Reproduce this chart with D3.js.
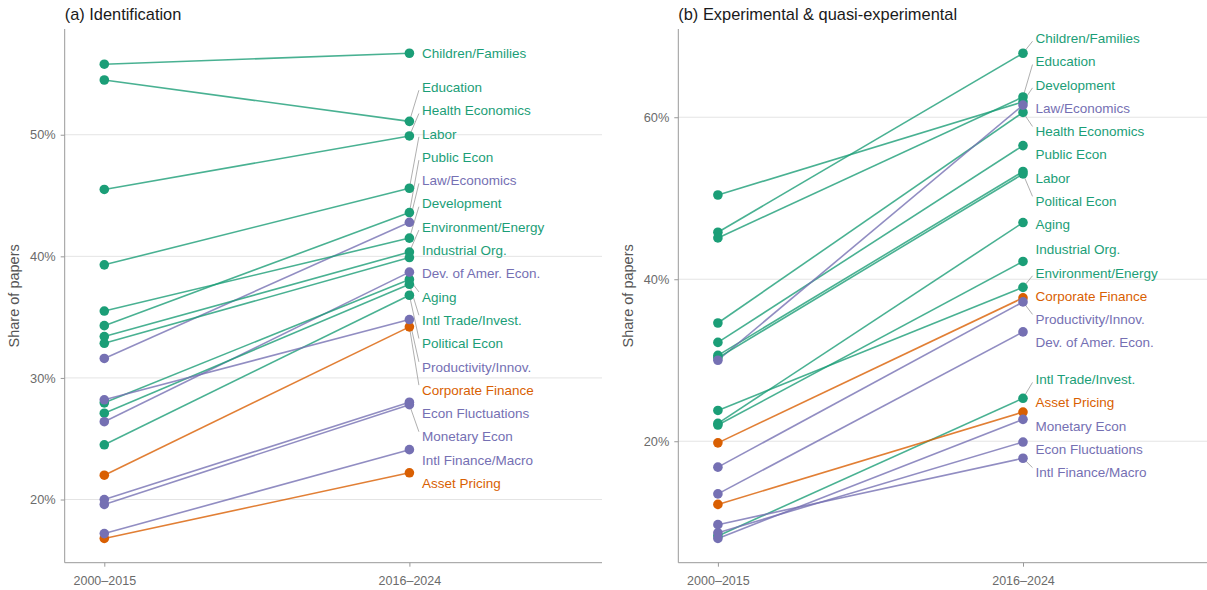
<!DOCTYPE html>
<html>
<head>
<meta charset="utf-8">
<script src="https://cdn.jsdelivr.net/npm/d3@7"></script>
<style>
  body { margin: 0; background: #fff; }
  svg { display: block; font-family: "Liberation Sans", Arial, sans-serif; }
</style>
</head>
<body>
<svg id="chart" width="1207" height="590"></svg>
<script>
// ---- data -------------------------------------------------------------
const periods = ["2000–2015", "2016–2024"];

const fields = [
  "Children/Families", "Education", "Health Economics", "Labor", "Public Econ",
  "Law/Economics", "Development", "Environment/Energy", "Industrial Org.",
  "Dev. of Amer. Econ.", "Aging", "Intl Trade/Invest.", "Political Econ",
  "Productivity/Innov.", "Corporate Finance", "Econ Fluctuations",
  "Monetary Econ", "Intl Finance/Macro", "Asset Pricing"
];

const fieldGroup = [
  "applied", "applied", "applied", "applied", "applied",
  "other", "applied", "applied", "applied",
  "other", "applied", "applied", "applied",
  "other", "finance", "other",
  "other", "other", "finance"
];

// share of papers (%) using identification language
const identEarly = [55.8, 54.5, 45.5, 39.3, 34.3, 31.6, 35.5, 33.4, 32.85, 26.4, 27.95, 27.1, 24.5, 28.2, 22.0, 20.0, 19.6, 17.2, 16.8];
const identLate  = [56.7, 51.1, 49.9, 45.6, 43.6, 42.8, 41.5, 40.35, 39.9, 38.7, 38.1, 37.7, 36.8, 34.8, 34.2, 28.0, 27.8, 24.1, 22.2];

// share of papers (%) using experimental & quasi-experimental designs
const experEarly = [45.8, 45.1, 34.6, 30.6, 32.2, 30.0, 50.4, 23.8, 22.0, 13.5, 22.2, 8.3, 30.3, 16.8, 19.8, 8.7, 8.0, 9.7, 12.2];
const experLate  = [67.9, 62.5, 60.6, 53.3, 56.5, 61.5, 61.9, 39.0, 42.2, 33.5, 47.0, 25.3, 53.0, 37.2, 37.7, 19.9, 22.7, 17.9, 23.6];

const yTicksA = [20, 30, 40, 50];
const yTicksB = [20, 40, 60];

const panelTitles = ["(a) Identification", "(b) Experimental & quasi-experimental"];
const axisTitle = "Share of papers";

// ---- styling ----------------------------------------------------------
const groupColor = { applied: "#1b9e77", other: "#7570b3", finance: "#d95f02" };
const groupDrawOrder = { applied: 0, finance: 1, other: 2 };

const svg = d3.select("#chart");
const plotTop = 29, plotBottom = 562.7;

const panels = [
  { left: 64.7, right: 602, early: identEarly, late: identLate, ticks: yTicksA,
    title: panelTitles[0], axisTitleX: 18.5 },
  { left: 678.3, right: 1207, early: experEarly, late: experLate, ticks: yTicksB,
    title: panelTitles[1], axisTitleX: 632.5 }
];

// simple one-dimensional label repulsion: labels keep their value order
// and overlapping runs are spread evenly around their mean target
function layoutLabels(items, step) {
  const sorted = items.slice().sort((a, b) => a.ty - b.ty);
  const place = c => {
    const n = c.members.length;
    const first = c.sum / n - (n - 1) * step / 2;
    c.members.forEach((m, i) => { m.ly = first + i * step; });
    c.top = first; c.bottom = first + (n - 1) * step;
  };
  const clusters = sorted.map(d => ({ members: [d], sum: d.ty }));
  clusters.forEach(place);
  let changed = true;
  while (changed) {
    changed = false;
    for (let i = 1; i < clusters.length; i++) {
      if (clusters[i].top - clusters[i - 1].bottom < step - 0.01) {
        const merged = {
          members: clusters[i - 1].members.concat(clusters[i].members),
          sum: clusters[i - 1].sum + clusters[i].sum
        };
        place(merged);
        clusters.splice(i - 1, 2, merged);
        changed = true;
        break;
      }
    }
  }
}

panels.forEach(p => {
  const g = svg.append("g");

  const all = p.early.concat(p.late);
  const lo = d3.min(all), hi = d3.max(all), pad = (hi - lo) * 0.05;
  const y = d3.scaleLinear().domain([lo - pad, hi + pad]).range([plotBottom, plotTop]);
  const x = d3.scalePoint().domain(periods).range([p.left + 39.6, p.left + 344.7]);

  // gridlines
  g.append("g").selectAll("line").data(p.ticks).join("line")
    .attr("x1", p.left).attr("x2", p.right)
    .attr("y1", d => y(d)).attr("y2", d => y(d))
    .attr("stroke", "#e4e4e4").attr("stroke-width", 1);

  // y axis
  const yAxis = d3.axisLeft(y).tickValues(p.ticks).tickFormat(d => d + "%")
    .tickSize(4).tickPadding(5);
  const ya = g.append("g").attr("transform", `translate(${p.left},0)`).call(yAxis);
  ya.select(".domain").remove();
  ya.selectAll(".tick line").attr("stroke", "#999");
  ya.selectAll(".tick text").attr("fill", "#6b6b6b")
    .style("font-size", "12.8px").style("font-family", "Liberation Sans, Arial, sans-serif");
  g.append("line").attr("x1", p.left).attr("x2", p.left)
    .attr("y1", plotTop).attr("y2", plotBottom).attr("stroke", "#999").attr("stroke-width", 1);

  // x axis
  const xAxis = d3.axisBottom(x).tickSize(4).tickPadding(9);
  const xa = g.append("g").attr("transform", `translate(0,${plotBottom})`).call(xAxis);
  xa.select(".domain").remove();
  xa.selectAll(".tick line").attr("stroke", "#999");
  xa.selectAll(".tick text").attr("fill", "#6b6b6b")
    .style("font-size", "12.5px").style("font-family", "Liberation Sans, Arial, sans-serif");
  g.append("line").attr("x1", p.left).attr("x2", p.right)
    .attr("y1", plotBottom).attr("y2", plotBottom).attr("stroke", "#999").attr("stroke-width", 1);

  // titles
  g.append("text").attr("x", p.left).attr("y", 20)
    .attr("fill", "#1a1a1a").style("font-size", "16.4px").text(p.title);
  g.append("text")
    .attr("transform", `translate(${p.axisTitleX},${(plotTop + plotBottom) / 2}) rotate(-90)`)
    .attr("text-anchor", "middle").attr("fill", "#555")
    .style("font-size", "14.5px").text(axisTitle);

  const rows = fields.map((f, i) => ({
    field: f, group: fieldGroup[i], early: p.early[i], late: p.late[i]
  }));

  // slope lines
  g.append("g").selectAll("line").data(rows).join("line")
    .attr("x1", x(periods[0])).attr("x2", x(periods[1]))
    .attr("y1", d => y(d.early)).attr("y2", d => y(d.late))
    .attr("stroke", d => groupColor[d.group])
    .attr("stroke-opacity", 0.8).attr("stroke-width", 1.6);

  // label layout at the late end
  const labels = rows.map(d => ({ row: d, ty: y(d.late) }));
  layoutLabels(labels, 23.3);
  const lx = x(periods[1]) + 12.5;

  // leader lines for displaced labels
  g.append("g").selectAll("line")
    .data(labels.filter(d => Math.abs(d.ly - d.ty) > 14))
    .join("line")
    .attr("x1", x(periods[1])).attr("y1", d => d.ty)
    .attr("x2", lx - 3)
    .attr("y2", d => d.ly + Math.max(-5, Math.min(3, d.ty - d.ly)))
    .attr("stroke", "#9a9a9a").attr("stroke-width", 0.8);

  // points
  const pts = [];
  rows.forEach(d => {
    pts.push({ group: d.group, px: x(periods[0]), v: d.early });
    pts.push({ group: d.group, px: x(periods[1]), v: d.late });
  });
  pts.sort((a, b) => groupDrawOrder[a.group] - groupDrawOrder[b.group]);
  g.append("g").selectAll("circle").data(pts).join("circle")
    .attr("cx", d => d.px).attr("cy", d => y(d.v)).attr("r", 4.8)
    .attr("fill", d => groupColor[d.group]);

  // field labels
  g.append("g").selectAll("text").data(labels).join("text")
    .attr("x", lx).attr("y", d => d.ly).attr("dy", "0.35em")
    .attr("fill", d => groupColor[d.row.group])
    .style("font-size", "13.5px")
    .text(d => d.row.field);
});
</script>
</body>
</html>
